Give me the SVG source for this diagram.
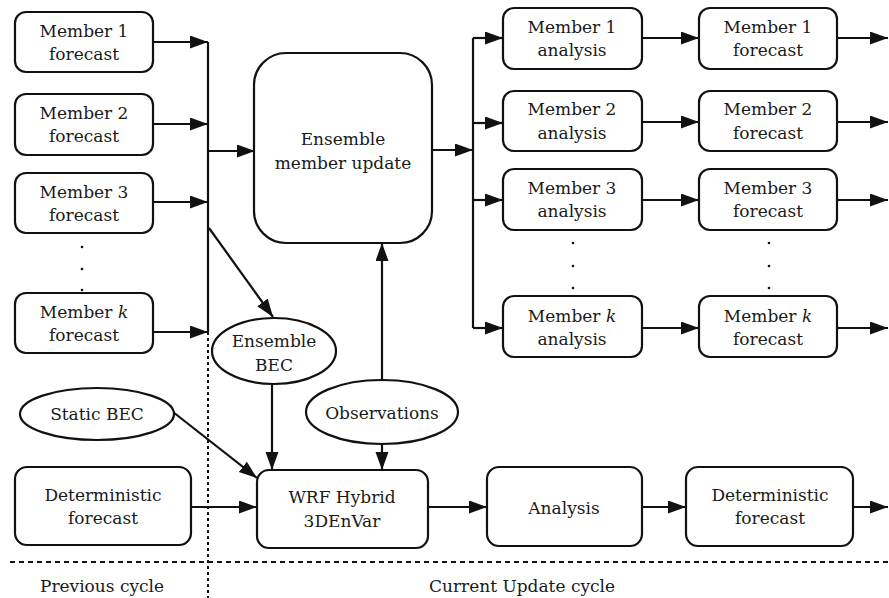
<svg xmlns="http://www.w3.org/2000/svg" width="889" height="598" viewBox="0 0 889 598">
<style>
.box{fill:#fff;stroke:#111;stroke-width:2.2}
.t{font-family:"DejaVu Serif",serif;font-size:17px;fill:#1a1a1a;text-anchor:middle}
.c{fill:none;stroke:#111;stroke-width:2.2}
.dash{fill:none;stroke:#111;stroke-width:2;stroke-dasharray:5 4}
.dot{fill:none;stroke:#111;stroke-width:2;stroke-dasharray:3 3}
</style>
<defs>
<marker id="ah" markerUnits="userSpaceOnUse" markerWidth="19" markerHeight="14" refX="18" refY="6.5" orient="auto">
<path d="M0,0 L18,6.5 L0,13 z" fill="#111"/>
</marker>
</defs>
<rect width="889" height="598" fill="#fff"/>

<g id="connectors">
<path class="c" d="M208,42 V332"/>
<path class="dot" d="M208,332 V598"/>
<path class="dash" d="M10,562 H889"/>
<path class="c" d="M153,42 H208" marker-end="url(#ah)"/>
<path class="c" d="M153,124 H208" marker-end="url(#ah)"/>
<path class="c" d="M153,202 H208" marker-end="url(#ah)"/>
<path class="c" d="M153,332 H208" marker-end="url(#ah)"/>
<path class="c" d="M208,151 H255" marker-end="url(#ah)"/>
<path class="c" d="M209,228 L273,317" marker-end="url(#ah)"/>
<path class="c" d="M432,150 H473" marker-end="url(#ah)"/>
<path class="c" d="M473,38 V328"/>
<path class="c" d="M473,38 H503" marker-end="url(#ah)"/>
<path class="c" d="M473,123 H503" marker-end="url(#ah)"/>
<path class="c" d="M473,200 H503" marker-end="url(#ah)"/>
<path class="c" d="M473,328 H503" marker-end="url(#ah)"/>
<path class="c" d="M642,38 H699" marker-end="url(#ah)"/>
<path class="c" d="M642,122 H699" marker-end="url(#ah)"/>
<path class="c" d="M642,200 H699" marker-end="url(#ah)"/>
<path class="c" d="M642,328 H699" marker-end="url(#ah)"/>
<path class="c" d="M837,38 H888" marker-end="url(#ah)"/>
<path class="c" d="M837,122 H888" marker-end="url(#ah)"/>
<path class="c" d="M837,200 H888" marker-end="url(#ah)"/>
<path class="c" d="M837,328 H888" marker-end="url(#ah)"/>
<path class="c" d="M272,384 V470" marker-end="url(#ah)"/>
<path class="c" d="M173,412 L257,478" marker-end="url(#ah)"/>
<path class="c" d="M382,380 V243" marker-end="url(#ah)"/>
<path class="c" d="M382,445 V470" marker-end="url(#ah)"/>
<path class="c" d="M191,507 H257" marker-end="url(#ah)"/>
<path class="c" d="M428,507 H487" marker-end="url(#ah)"/>
<path class="c" d="M642,507 H686" marker-end="url(#ah)"/>
<path class="c" d="M853,507 H888" marker-end="url(#ah)"/>
</g>

<g id="mf1"><rect class="box" x="15" y="12" width="138" height="60" rx="11"/><text class="t" x="84" y="37">Member 1</text><text class="t" x="84" y="60">forecast</text></g>
<g id="mf2"><rect class="box" x="15" y="94" width="138" height="61" rx="11"/><text class="t" x="84" y="119">Member 2</text><text class="t" x="84" y="142">forecast</text></g>
<g id="mf3"><rect class="box" x="15" y="173" width="138" height="60" rx="11"/><text class="t" x="84" y="198">Member 3</text><text class="t" x="84" y="221">forecast</text></g>
<g id="dots-left" fill="#111"><circle cx="82" cy="247" r="1.3"/><circle cx="82" cy="269" r="1.3"/><circle cx="82" cy="290" r="1.3"/></g>
<g id="mfk"><rect class="box" x="15" y="293" width="138" height="60" rx="11"/><text class="t" x="84" y="318">Member <tspan font-style="italic">k</tspan></text><text class="t" x="84" y="341">forecast</text></g>

<g id="emu"><rect class="box" x="254" y="53" width="178" height="190" rx="32"/><text class="t" x="343" y="145">Ensemble</text><text class="t" x="343" y="169">member update</text></g>

<g id="ma1"><rect class="box" x="503" y="8" width="139" height="61" rx="11"/><text class="t" x="572" y="33">Member 1</text><text class="t" x="572" y="56">analysis</text></g>
<g id="ma2"><rect class="box" x="503" y="91" width="139" height="60" rx="11"/><text class="t" x="572" y="115">Member 2</text><text class="t" x="572" y="139">analysis</text></g>
<g id="ma3"><rect class="box" x="503" y="169" width="139" height="61" rx="11"/><text class="t" x="572" y="194">Member 3</text><text class="t" x="572" y="217">analysis</text></g>
<g id="dots-ma" fill="#111"><circle cx="573" cy="243" r="1.3"/><circle cx="573" cy="266" r="1.3"/><circle cx="573" cy="288" r="1.3"/></g>
<g id="mak"><rect class="box" x="503" y="296" width="139" height="61" rx="11"/><text class="t" x="572" y="322">Member <tspan font-style="italic">k</tspan></text><text class="t" x="572" y="345">analysis</text></g>

<g id="nf1"><rect class="box" x="699" y="8" width="138" height="61" rx="11"/><text class="t" x="768" y="33">Member 1</text><text class="t" x="768" y="56">forecast</text></g>
<g id="nf2"><rect class="box" x="699" y="91" width="138" height="60" rx="11"/><text class="t" x="768" y="115">Member 2</text><text class="t" x="768" y="139">forecast</text></g>
<g id="nf3"><rect class="box" x="699" y="169" width="138" height="61" rx="11"/><text class="t" x="768" y="194">Member 3</text><text class="t" x="768" y="217">forecast</text></g>
<g id="dots-nf" fill="#111"><circle cx="769" cy="243" r="1.3"/><circle cx="769" cy="266" r="1.3"/><circle cx="769" cy="288" r="1.3"/></g>
<g id="nfk"><rect class="box" x="699" y="296" width="138" height="61" rx="11"/><text class="t" x="768" y="322">Member <tspan font-style="italic">k</tspan></text><text class="t" x="768" y="345">forecast</text></g>

<g id="ebec"><ellipse class="box" cx="274" cy="351" rx="62" ry="33"/><text class="t" x="274" y="347">Ensemble</text><text class="t" x="274" y="371">BEC</text></g>
<g id="sbec"><ellipse class="box" cx="97" cy="414" rx="77" ry="26"/><text class="t" x="97" y="420">Static BEC</text></g>
<g id="obs"><ellipse class="box" cx="382" cy="412" rx="76" ry="32"/><text class="t" x="382" y="419">Observations</text></g>

<g id="detprev"><rect class="box" x="15" y="467" width="176" height="78" rx="12"/><text class="t" x="103" y="501">Deterministic</text><text class="t" x="103" y="524">forecast</text></g>
<g id="wrf"><rect class="box" x="257" y="470" width="171" height="78" rx="12"/><text class="t" x="342" y="503">WRF Hybrid</text><text class="t" x="342" y="527">3DEnVar</text></g>
<g id="ana"><rect class="box" x="487" y="467" width="155" height="79" rx="12"/><text class="t" x="564" y="514">Analysis</text></g>
<g id="detcur"><rect class="box" x="686" y="467" width="167" height="79" rx="12"/><text class="t" x="770" y="501">Deterministic</text><text class="t" x="770" y="524">forecast</text></g>

<g id="labels"><text class="t" x="102" y="592">Previous cycle</text><text class="t" x="522" y="592">Current Update cycle</text></g>
</svg>
